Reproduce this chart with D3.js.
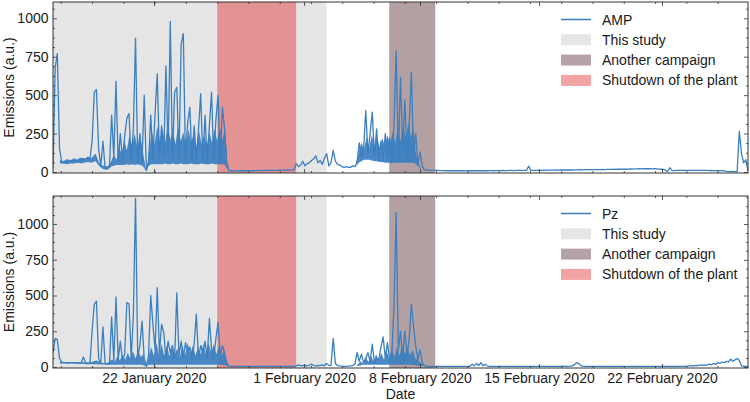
<!DOCTYPE html>
<html lang="en">
<head>
<meta charset="UTF-8">
<title>Emissions</title>
<script src="https://cdn.jsdelivr.net/npm/d3@7"></script>
<style>
body { margin: 0; background: #fff; }
text { font-family: "Liberation Sans", Arial, sans-serif; fill: #1a1a1a; }
</style>
</head>
<body>
<div id="chart"></div>
<script>

// record is sampled every 0.125 day, t = 0 at the start of the record
const step = 0.125

const ampValues = [
  20, 680, 770, 150, 70, 60, 70, 65, 75, 70,
  75, 65, 85, 70, 90, 75, 95, 85, 200, 520,
  535, 150, 40, 200, 25, 20, 35, 370, 90, 590,
  60, 250, 70, 230, 350, 380, 60, 280, 870, 60,
  250, 70, 500, 10, 60, 370, 80, 380, 640, 90,
  300, 100, 690, 120, 980, 80, 520, 550, 90, 830,
  900, 80, 320, 420, 70, 300, 80, 280, 510, 70,
  370, 60, 300, 520, 70, 340, 500, 80, 420, 280,
  60, 8, 8, 7, 7, 8, 8, 8, 9, 8,
  8, 9, 8, 9, 9, 10, 9, 10, 10, 10,
  11, 10, 11, 11, 12, 11, 12, 12, 13, 12,
  12, 15, 55, 35, 45, 70, 40, 55, 60, 75,
  85, 105, 60, 75, 50, 90, 120, 40, 60, 140,
  70, 50, 45, 35, 30, 35, 30, 30, 40, 35,
  60, 190, 90, 150, 400, 120, 250, 390, 100, 280,
  80, 200, 70, 250, 80, 220, 60, 300, 790, 100,
  615, 150, 470, 80, 300, 650, 100, 250, 50, 130,
  40, 15, 12, 12, 10, 10, 10, 10, 9, 9,
  9, 8, 8, 8, 8, 8, 8, 8, 8, 8,
  7, 8, 8, 9, 8, 8, 9, 8, 8, 8,
  8, 9, 9, 8, 9, 9, 9, 10, 9, 9,
  10, 10, 9, 10, 10, 10, 10, 11, 10, 38,
  11, 11, 10, 11, 11, 11, 12, 11, 12, 12,
  12, 12, 13, 12, 13, 13, 13, 13, 14, 13,
  14, 14, 14, 15, 14, 15, 15, 15, 15, 16,
  16, 16, 16, 17, 16, 17, 17, 17, 18, 17,
  18, 18, 18, 19, 18, 19, 20, 19, 20, 20,
  21, 20, 21, 21, 22, 21, 20, 21, 20, 19,
  18, 17, 12, 3, 28, 10, 9, 10, 10, 10,
  10, 10, 10, 10, 10, 10, 10, 10, 10, 10,
  10, 10, 9, 10, 9, 9, 8, 9, 9, 8,
  4, 3, 3, 4, 3, 3, 265, 120, 60, 80,
  5
]

const pzValues = [
  100, 200, 190, 60, 35, 30, 30, 28, 30, 30,
  30, 28, 28, 30, 70, 30, 25, 25, 250, 440,
  460, 60, 30, 280, 25, 20, 25, 350, 40, 490,
  50, 180, 40, 90, 450, 440, 60, 360, 1180, 80,
  150, 320, 60, 5, 80, 500, 300, 120, 555, 100,
  300, 240, 60, 180, 100, 150, 60, 520, 80, 180,
  60, 170, 100, 140, 50, 160, 370, 60, 150, 100,
  180, 60, 340, 120, 60, 200, 310, 80, 150, 100,
  30, 5, 5, 5, 5, 5, 5, 5, 5, 5,
  5, 5, 5, 5, 5, 5, 5, 5, 5, 5,
  5, 5, 5, 5, 5, 5, 5, 5, 5, 5,
  5, 5, 8, 15, 10, 12, 8, 10, 12, 20,
  10, 8, 12, 10, 15, 10, 25, 12, 10, 200,
  25, 10, 8, 6, 5, 5, 6, 8, 10, 20,
  100, 40, 90, 30, 60, 100, 40, 160, 30, 60,
  50, 140, 210, 60, 170, 40, 90, 420, 1080, 120,
  250, 60, 250, 80, 200, 440, 280, 150, 50, 120,
  30, 10, 6, 5, 5, 5, 5, 5, 5, 5,
  5, 5, 5, 5, 5, 5, 5, 5, 5, 5,
  5, 5, 5, 20, 8, 25, 10, 30, 8, 20,
  6, 5, 5, 5, 5, 5, 5, 5, 5, 5,
  5, 5, 5, 5, 5, 5, 5, 5, 5, 5,
  5, 5, 5, 5, 5, 5, 5, 5, 5, 5,
  5, 5, 5, 5, 5, 6, 5, 5, 6, 8,
  15, 30, 25, 10, 6, 5, 5, 5, 5, 5,
  5, 5, 5, 5, 5, 5, 5, 5, 5, 5,
  5, 5, 5, 5, 5, 5, 5, 5, 5, 5,
  5, 5, 5, 5, 5, 5, 5, 5, 5, 5,
  5, 5, 5, 5, 5, 5, 5, 5, 5, 5,
  5, 5, 6, 8, 10, 8, 12, 10, 15, 12,
  15, 12, 20, 15, 25, 18, 30, 25, 35, 30,
  40, 35, 55, 40, 50, 60, 45, 8, 5, 5,
  5
]

// dense noise of the busy periods: [day, low, high]
const ampBusy1 = [
  [0.40, 55, 80], [0.60, 55, 70], [0.80, 50, 85], [1.00, 55, 75], [1.20, 55, 90], [1.40, 60, 80],
  [1.60, 55, 95], [1.80, 60, 85], [2.00, 65, 100], [2.20, 60, 90], [2.45, 70, 120], [2.65, 40, 60],
  [2.80, 25, 45], [3.00, 15, 35], [3.20, 20, 40], [3.35, 35, 70],
  [3.50, 40, 110], [3.65, 45, 80], [3.80, 45, 160], [3.95, 45, 120], [4.10, 45, 210], [4.25, 50, 140],
  [4.40, 45, 240], [4.55, 50, 170], [4.70, 45, 250], [4.85, 50, 160], [5.00, 45, 240], [5.15, 40, 150],
  [5.28, 20, 60], [5.35, 8, 12], [5.45, 30, 70],
  [5.55, 45, 160], [5.70, 50, 260], [5.85, 50, 180], [6.00, 50, 300], [6.15, 50, 200], [6.30, 50, 280],
  [6.45, 55, 190], [6.60, 50, 310], [6.75, 50, 210], [6.90, 55, 270], [7.05, 50, 180], [7.20, 50, 300],
  [7.35, 55, 200], [7.50, 50, 260], [7.65, 50, 170], [7.80, 50, 280], [7.95, 55, 190], [8.10, 50, 250],
  [8.25, 50, 160], [8.40, 50, 270], [8.55, 55, 180], [8.70, 50, 240], [8.85, 50, 170], [9.00, 50, 260],
  [9.15, 55, 190], [9.30, 50, 280], [9.45, 50, 200], [9.60, 50, 300], [9.75, 50, 210], [9.90, 45, 280],
  [9.98, 30, 150], [10.04, 10, 10]
]
const ampBusy2 = [
  [17.44, 40, 60], [17.60, 60, 130], [17.75, 70, 190], [17.90, 80, 150], [18.05, 80, 230], [18.20, 80, 160],
  [18.35, 75, 240], [18.50, 70, 170], [18.65, 70, 230], [18.80, 65, 160], [18.95, 65, 220], [19.10, 60, 170],
  [19.25, 60, 240], [19.40, 60, 180], [19.55, 60, 260], [19.70, 60, 190], [19.85, 60, 290], [20.00, 60, 200],
  [20.15, 60, 300], [20.30, 60, 220], [20.45, 60, 320], [20.60, 60, 230], [20.75, 60, 290], [20.88, 50, 120],
  [20.98, 40, 70], [21.18, 20, 25]
]
const pzBusy1 = [
  [0.40, 25, 40], [0.70, 25, 32], [1.00, 24, 35], [1.30, 22, 30], [1.60, 22, 35], [1.90, 20, 30],
  [2.20, 20, 35], [2.50, 20, 45], [2.80, 18, 30], [3.10, 15, 25], [3.40, 15, 55], [3.55, 15, 35],
  [3.70, 15, 75], [3.85, 15, 45], [4.00, 15, 90], [4.15, 15, 50], [4.30, 15, 100], [4.45, 15, 60],
  [4.60, 15, 110], [4.75, 15, 60], [4.90, 15, 120], [5.05, 15, 70], [5.20, 12, 90], [5.32, 6, 10],
  [5.40, 5, 5], [5.50, 15, 70], [5.65, 15, 140], [5.80, 15, 80], [5.95, 15, 170], [6.10, 15, 90],
  [6.25, 15, 160], [6.40, 15, 80], [6.55, 15, 150], [6.70, 15, 75], [6.85, 15, 140], [7.00, 15, 80],
  [7.15, 15, 130], [7.30, 15, 70], [7.45, 15, 150], [7.60, 15, 80], [7.75, 15, 170], [7.90, 15, 90],
  [8.05, 15, 150], [8.20, 15, 80], [8.35, 15, 140], [8.50, 15, 90], [8.65, 15, 160], [8.80, 15, 90],
  [8.95, 15, 170], [9.10, 15, 100], [9.25, 15, 160], [9.40, 15, 90], [9.55, 15, 150], [9.70, 15, 80],
  [9.85, 12, 120], [9.96, 8, 50], [10.07, 5, 5]
]
const pzBusy2 = [
  [17.50, 5, 10], [17.70, 10, 40], [17.85, 15, 25], [18.00, 15, 70], [18.15, 15, 35], [18.30, 15, 80],
  [18.45, 15, 40], [18.60, 15, 90], [18.75, 15, 45], [18.90, 15, 100], [19.05, 15, 50], [19.20, 15, 110],
  [19.35, 15, 60], [19.50, 15, 130], [19.65, 15, 70], [19.80, 15, 140], [19.95, 15, 80], [20.10, 15, 150],
  [20.25, 15, 90], [20.40, 15, 140], [20.55, 15, 80], [20.70, 15, 120], [20.85, 12, 60], [21.00, 10, 50],
  [21.24, 8, 20], [21.47, 5, 5]
]

// date labels and where they sit on the record (days)
const tickDays = [5.81, 14.45, 21.12, 27.97, 35.05]
const tickLabels = ['22 January 2020', '1 February 2020', '8 February 2020', '15 February 2020', '22 February 2020']
const yTicks = [0, 250, 500, 750, 1000]

// shaded periods [start, end] in days
const thisStudy = [[-1, 9.45], [14, 15.75]]
const shutdown = [[9.45, 14]]
const anotherCampaign = [[19.35, 22]]

const seriesNames = ['AMP', 'Pz']
const legendLabels = ['This study', 'Another campaign', 'Shutdown of the plant']

const lineColor = '#3b7fc0'
const bandColors = {study: '#e5e5e5', shutdown: '#e39394', another: '#b3a0a3'}
const legendColors = ['#e6e6e6', '#b5a2a6', '#f2a3a3']

const width = 750, height = 402
const left = 53, right = 748
const panels = [
  {top: 2, bottom: 173, values: ampValues, busy: [ampBusy1, ampBusy2], name: seriesNames[0], ymin: -6.5, ymax: 1106, labels: false},
  {top: 196, bottom: 368, values: pzValues, busy: [pzBusy1, pzBusy2], name: seriesNames[1], ymin: -7, ymax: 1196, labels: true}
]

const svg = d3.select('#chart').append('svg')
  .attr('width', width).attr('height', height)

const x = d3.scaleLinear().domain([0, 40]).range([left, right])
const minorX = d3.range(0.45, 40, 1.8)

function styleAxis(g) {
  g.select('.domain').remove()
  g.selectAll('line').attr('stroke', '#333').attr('stroke-width', 0.8)
  g.selectAll('text').attr('font-size', 14).attr('font-family', '"Liberation Sans", Arial, sans-serif').attr('fill', '#1a1a1a')
}

function drawPanel(p, idx) {
  const y = d3.scaleLinear().domain([p.ymin, p.ymax]).range([p.bottom, p.top])
  const minorY = d3.range(62.5, p.ymax, 62.5).filter(v => v % 250 != 0)
  const clipId = 'clip' + idx

  svg.append('clipPath').attr('id', clipId)
    .append('rect').attr('x', left).attr('y', p.top)
    .attr('width', right - left).attr('height', p.bottom - p.top)

  const plot = svg.append('g').attr('clip-path', 'url(#' + clipId + ')')

  function bands(list, color) {
    plot.selectAll(null).data(list).enter().append('rect')
      .attr('x', d => x(d[0]))
      .attr('width', d => x(d[1]) - x(d[0]))
      .attr('y', p.top).attr('height', p.bottom - p.top)
      .attr('fill', color)
  }
  bands(thisStudy, bandColors.study)
  bands(shutdown, bandColors.shutdown)
  bands(anotherCampaign, bandColors.another)

  const area = d3.area()
    .x(d => x(d[0]))
    .y0(d => y(d[1]))
    .y1(d => y(d[2]))
  plot.selectAll(null).data(p.busy).enter().append('path')
    .attr('fill', lineColor)
    .attr('fill-opacity', 0.92)
    .attr('d', area)

  const line = d3.line()
    .x((d, i) => x(i * step))
    .y(d => y(d))
  plot.append('path')
    .datum(p.values)
    .attr('fill', 'none')
    .attr('stroke', lineColor)
    .attr('stroke-width', 1.3)
    .attr('stroke-linejoin', 'round')
    .attr('d', line)

  // axes, ticks pointing inwards on all four sides
  const bottomAx = d3.axisBottom(x).tickValues(tickDays).tickSize(-4).tickPadding(5)
    .tickFormat((d, i) => p.labels ? tickLabels[i] : '')
  svg.append('g').attr('transform', 'translate(0,' + p.bottom + ')').call(bottomAx).call(styleAxis)
  svg.append('g').attr('transform', 'translate(0,' + p.bottom + ')')
    .call(d3.axisBottom(x).tickValues(minorX).tickSize(-2).tickFormat('')).call(styleAxis)
  svg.append('g').attr('transform', 'translate(0,' + p.top + ')')
    .call(d3.axisTop(x).tickValues(tickDays).tickSize(-4).tickFormat('')).call(styleAxis)
  svg.append('g').attr('transform', 'translate(0,' + p.top + ')')
    .call(d3.axisTop(x).tickValues(minorX).tickSize(-2).tickFormat('')).call(styleAxis)

  svg.append('g').attr('transform', 'translate(' + left + ',0)')
    .call(d3.axisLeft(y).tickValues(yTicks).tickSize(-4).tickPadding(4.5).tickFormat(d3.format('d'))).call(styleAxis)
  svg.append('g').attr('transform', 'translate(' + left + ',0)')
    .call(d3.axisLeft(y).tickValues(minorY).tickSize(-2).tickFormat('')).call(styleAxis)
  svg.append('g').attr('transform', 'translate(' + right + ',0)')
    .call(d3.axisRight(y).tickValues(yTicks).tickSize(-4).tickFormat('')).call(styleAxis)
  svg.append('g').attr('transform', 'translate(' + right + ',0)')
    .call(d3.axisRight(y).tickValues(minorY).tickSize(-2).tickFormat('')).call(styleAxis)

  svg.append('rect')
    .attr('x', left).attr('y', p.top)
    .attr('width', right - left).attr('height', p.bottom - p.top)
    .attr('fill', 'none').attr('stroke', '#333').attr('stroke-width', 1)

  svg.append('text')
    .attr('transform', 'translate(13.5,' + ((p.top + p.bottom) / 2) + ') rotate(-90)')
    .attr('text-anchor', 'middle')
    .attr('font-size', 14)
    .text('Emissions (a.u.)')

  // legend
  const lg = svg.append('g').attr('transform', 'translate(' + (right - 187) + ',' + (p.top + 17.5) + ')')
  lg.append('line').attr('x1', 0).attr('x2', 30).attr('y1', 0).attr('y2', 0)
    .attr('stroke', lineColor).attr('stroke-width', 1.5)
  lg.append('text').attr('x', 41).attr('y', 0).attr('dy', '0.36em').attr('font-size', 14).text(p.name)
  legendLabels.forEach((lab, k) => {
    const ry = (k + 1) * 20.3
    lg.append('rect').attr('x', 0).attr('y', ry - 5.5).attr('width', 30).attr('height', 11)
      .attr('fill', legendColors[k])
    lg.append('text').attr('x', 41).attr('y', ry).attr('dy', '0.36em').attr('font-size', 14).text(lab)
  })
}

panels.forEach(drawPanel)

svg.append('text')
  .attr('x', (left + right) / 2).attr('y', 398.5)
  .attr('text-anchor', 'middle')
  .attr('font-size', 14)
  .text('Date')

</script>
</body>
</html>
